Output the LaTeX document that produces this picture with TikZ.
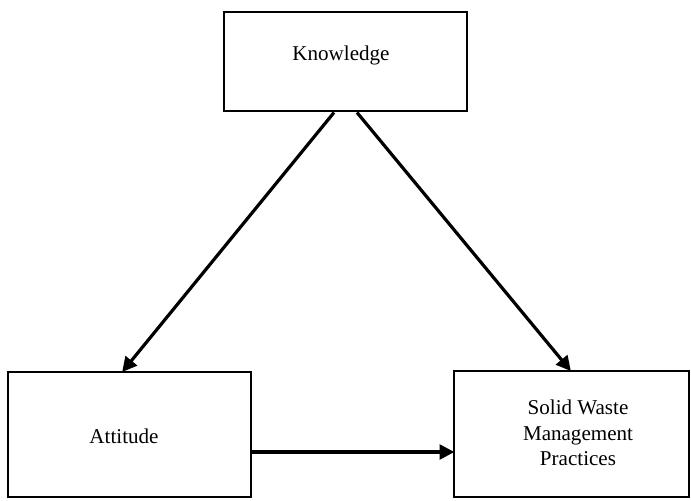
\documentclass[tikz,border=0pt]{standalone}
\usepackage{fontspec}
\setmainfont{Liberation Serif}
\usetikzlibrary{calc,arrows.meta}
\tikzset{
  box/.style={draw=black, line width=1.5pt, inner sep=0pt, fill=white},
  txt/.style={align=center, font=\fontsize{15.8}{19}\selectfont, inner sep=0pt},
  conn/.style={line width=2.4pt, -{Triangle[length=11pt,width=11pt]}, shorten >=-1pt}
}
\begin{document}
\begin{tikzpicture}[x=0.75pt,y=-0.75pt]
\useasboundingbox (0,0) rectangle (691,500);
\node[box, minimum width=182.6pt, minimum height=74.6pt] (know) at (345.25,61.75) {};
\node[box, minimum width=182.25pt, minimum height=93.75pt] (att) at (129.5,434.5) {};
\node[box, minimum width=176.25pt, minimum height=94.5pt] (swm) at (571.5,434) {};
\node[txt] (knowt) at (341,55) {Knowledge};
\node[txt] (attt) at (124,436) {Attitude};
\node[txt] (swmt) at (578,433) {Solid Waste\\Management\\Practices};
\draw[conn] ($(know.south)+(-11.25,0)$) -- ($(att.north)+(-6.5,0)$);
\draw[conn] ($(know.south)+(11.75,0)$) -- ($(swm.north)+(-1.5,0)$);
\draw[conn] ($(att.east)+(0,17.5)$) -- ($(swm.west)+(0,18)$);
\end{tikzpicture}
\end{document}
